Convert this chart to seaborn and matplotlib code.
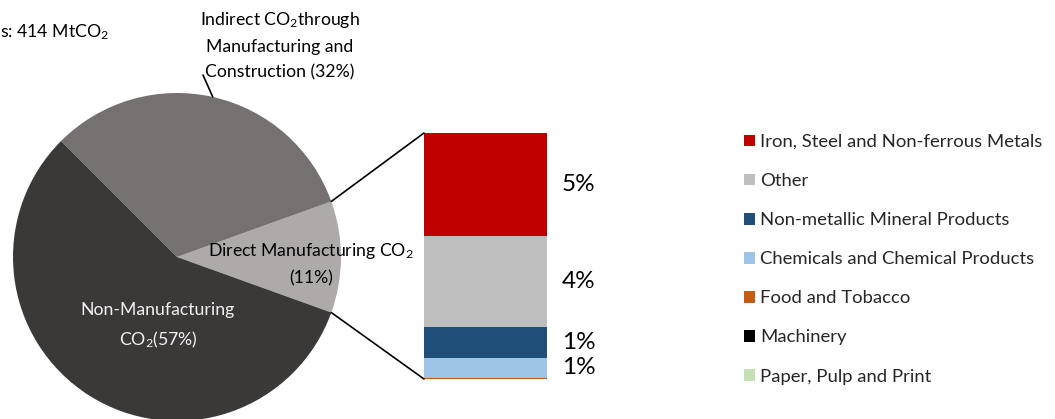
import numpy as np
import matplotlib
matplotlib.use("Agg")
import matplotlib.pyplot as plt
import seaborn as sns
from matplotlib.patches import Patch, ConnectionPatch

# ---------------- data ----------------
pie_labels = ["Direct Manufacturing CO$_2$\n(11%)",
              "Indirect CO$_2$through\nManufacturing and\nConstruction (32%)",
              "Non-Manufacturing\nCO$_2$(57%)"]
pie_shares = [11, 32, 57]
pie_colors = ["#AEAAAA", "#767171", "#3B3838"]

sectors = ["Iron, Steel and Non-ferrous Metals", "Other",
           "Non-metallic Mineral Products", "Chemicals and Chemical Products",
           "Food and Tobacco", "Machinery", "Paper, Pulp and Print"]
sector_shares = [4.62, 4.06, 1.38, 0.88, 0.04, 0.01, 0.01]
sector_colors = ["#C00000", "#BFBFBF", "#1F4E79", "#9DC3E6",
                 "#C55A11", "#000000", "#C5E0B4"]
sector_labels = ["5%", "4%", "1%", "1%", "", "", ""]
total_label = "s: 414 MtCO$_2$"

# ---------------- style ----------------
sns.set_theme(style="white")
plt.rcParams["font.family"] = ["Lato", "DejaVu Sans"]
plt.rcParams["mathtext.fontset"] = "custom"
plt.rcParams["mathtext.rm"] = "Lato"
plt.rcParams["mathtext.it"] = "Lato:italic"
plt.rcParams["mathtext.bf"] = "Lato:bold"
plt.rcParams["mathtext.default"] = "regular"

FS = 12.7
FS_LEG = 13.3
FS_PCT = 17.5
LS = 1.68

W, H = 1055, 419
fig = plt.figure(figsize=(W / 100, H / 100), dpi=100)
fig.patch.set_facecolor("white")

# ---------------- pie ----------------
ax = fig.add_axes([0, 0, 1, 1])
cx, cy, R = 177, H - 257, 164
start = -pie_shares[0] / sum(pie_shares) * 360 / 2
wedges, _ = ax.pie(pie_shares, colors=pie_colors, startangle=start,
                   center=(cx, cy), radius=R, frame=True,
                   wedgeprops=dict(linewidth=0))
ax.set_xlim(0, W)
ax.set_ylim(0, H)
ax.set_aspect("auto")
ax.axis("off")

ax.text(311, H - 264, pie_labels[0], ha="center", va="center",
        fontsize=FS, color="black", linespacing=LS)
ax.text(280, H - 45, pie_labels[1], ha="center", va="center",
        fontsize=FS, color="black", linespacing=LS)
ax.text(158, H - 326, pie_labels[2], ha="center", va="center",
        fontsize=FS, color="#F2F2F2", linespacing=LS)
ax.text(0, H - 32, total_label, ha="left", va="center",
        fontsize=FS, color="black")

# leader line for indirect slice
m = np.deg2rad((wedges[1].theta1 + wedges[1].theta2) / 2)
ax.plot([cx + R * np.cos(m), 203], [cy + R * np.sin(m), H - 75],
        color="black", lw=1.2)

# ---------------- stacked bar ----------------
bax = fig.add_axes([424 / W, (H - 379) / H, 123 / W, 246 / H])
cum_top = [sum(sector_shares[i:]) for i in range(len(sector_shares))]
for top, col in zip(cum_top, sector_colors):
    sns.barplot(x=["Direct"], y=[top], color=col, saturation=1, width=1,
                errorbar=None, linewidth=0, ax=bax)
bax.set_xlim(-0.5, 0.5)
bax.set_ylim(0, cum_top[0])
bax.axis("off")

for top, share, lbl in zip(cum_top, sector_shares, sector_labels):
    if lbl:
        bax.annotate(lbl, xy=(0.5, top - share / 2), xytext=(15, 0),
                     textcoords="offset pixels", ha="left", va="center",
                     fontsize=FS_PCT, color="black")

# connector lines from direct slice to bar
t1 = np.deg2rad(wedges[0].theta1)
t2 = np.deg2rad(wedges[0].theta2)
for ang, yb in [(t2, cum_top[0]), (t1, 0)]:
    con = ConnectionPatch(xyA=(cx + R * np.cos(ang), cy + R * np.sin(ang)),
                          coordsA=ax.transData, xyB=(-0.5, yb),
                          coordsB=bax.transData, color="black", lw=1.2)
    fig.add_artist(con)

# ---------------- legend ----------------
handles = [Patch(facecolor=c, edgecolor="none", label=s)
           for s, c in zip(sectors, sector_colors)]
ax.legend(handles=handles, loc="upper left",
          bbox_to_anchor=(744 / W, (H - 134) / H), frameon=False,
          fontsize=FS_LEG, handlelength=0.6, handleheight=0.6,
          handletextpad=0.27, labelspacing=1.25, borderpad=0,
          borderaxespad=0)

fig.savefig("out.png", dpi=100, facecolor="white")
